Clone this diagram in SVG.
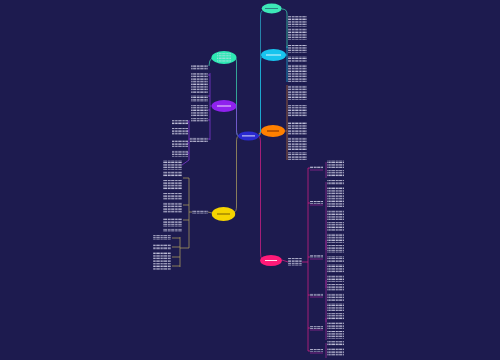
<svg xmlns="http://www.w3.org/2000/svg" width="500" height="360" viewBox="0 0 500 360">
<defs>
<pattern id="tx" patternUnits="userSpaceOnUse" width="7.3" height="2.6"><rect x="0" y="0.5" width="2.4" height="1.1" fill="#d8d8ee"/><rect x="3" y="0.5" width="3.6" height="1.1" fill="#d8d8ee"/></pattern>
<style>
.t{fill:url(#tx)}
.c{fill:none;stroke-width:0.7}
.nl{fill:#ffffff;opacity:.85}
</style>
</defs>
<rect width="500" height="360" fill="#1d1b4f"/>
<g id="connectors">
<path class="c" stroke="#3de0b4" d="M239 136 Q236.5 136 236.5 130 L236.5 62 Q236.5 57.5 234 57.5"/>
<path class="c" stroke="#8a3ae0" d="M239 136 Q236.5 136 236.5 130 L236.5 110 Q236.5 106 234 106"/>
<path class="c" stroke="#b8a860" d="M239 136 Q236.5 136 236.5 142 L236.5 206 Q236.5 212 234 212"/>
<path class="c" stroke="#2bb0d0" d="M258 136 Q260.5 136 260.5 130 L260.5 16 Q260.5 12 262 11"/>
<path class="c" stroke="#18b8e0" d="M258 136 Q260.5 136 260.5 130 L260.5 62 Q260.5 58 262 57"/>
<path class="c" stroke="#ff7a10" d="M258.5 134 L261.5 132"/>
<path class="c" stroke="#e0208a" d="M258 136 Q260.5 136 260.5 142 L260.5 252 Q260.5 258 262 259"/>
<path class="c" stroke="#3de0b4" d="M282 9 Q287 9 287 14 L287 48"/>
<path class="c" stroke="#18b8e0" d="M286 55 L287 55 M287 46 L287 82"/>
<path class="c" stroke="#c07030" d="M285 131 L287 131 M287 85 L287 160"/>
<path class="c" stroke="#3de0b4" d="M212 58 Q209 60 209 66"/>
<path class="c" stroke="#8a3ae0" d="M211.5 106 L210 106 M210 73 L210 140 M210 75 L208 75 M210 96 L208 96 M210 110 L208 110 M210 120 L208 120 M210 139 L208 139"/>
<path class="c" stroke="#8a3ae0" d="M190 139 L189 139 M189 120 L189 160 M189 122 L187 122 M189 131 L187 131 M189 143 L187 143 M189 153 L187 153 M189 160 L182 165"/>
<path class="c" stroke="#b8a860" d="M212 213 L208 212 M192 212 L189 212 M189 178 L189 248 M189 178 L183 178 M189 205 L183 205 M189 220 L183 220 M189 248 L180 248 M180 237 L180 267 M180 238 L172 238 M180 247 L172 247 M180 257 L172 257 M180 266 L172 266"/>
<path class="c" stroke="#e0208a" d="M282 260 L288 262 M302 262 L308 262 M308 168 L308 351 M308 168 L310 168 M308 203 L310 203 M308 257 L310 257 M308 295 L310 295 M308 328 L310 328 M308 351 L310 351"/>
<path class="c" stroke="#a02a9a" d="M310 170 L323 170 M326 162 L326 178 M310 205 L323 205 M326 182 L326 250 M310 259 L323 259 M326 240 L326 288 M310 297 L323 297 M326 280 L326 322 M310 330 L323 330 M326 318 L326 340 M310 353 L323 353 M326 343 L326 358"/>
</g>
<g id="root"><ellipse cx="248.5" cy="136" rx="10.5" ry="4.5" fill="#2a2ad0"/><rect class="nl" x="242" y="135.4" width="13" height="1"/></g>
<g id="n-top"><ellipse cx="271.7" cy="8.5" rx="10" ry="5" fill="#3de8b8"/><rect x="265" y="8" width="13" height="1" fill="#1d1b4f" opacity=".5"/></g>
<g id="n-green"><ellipse cx="224" cy="57.5" rx="12.5" ry="6.5" fill="#2ee8b4"/><rect x="217" y="53" width="14" height="9" fill="url(#tx)" opacity=".7"/></g>
<g id="n-cyan"><ellipse cx="273.5" cy="55" rx="12.5" ry="6" fill="#18c4ee"/><rect class="nl" x="266" y="54.5" width="15" height="1"/></g>
<g id="n-purple"><ellipse cx="224" cy="106" rx="12.5" ry="6" fill="#8f22ee"/><rect class="nl" x="217" y="105.5" width="14" height="1"/></g>
<g id="n-orange"><ellipse cx="273" cy="131" rx="12" ry="6" fill="#ff8000"/><rect x="267" y="130.5" width="12" height="1" fill="#7a2a00"/></g>
<g id="n-yellow"><ellipse cx="223.5" cy="214" rx="11.7" ry="7" fill="#f5d400"/><rect x="217" y="213.5" width="13" height="1" fill="#7a6000"/></g>
<g id="n-pink"><ellipse cx="271" cy="260.5" rx="11" ry="5.5" fill="#ff1a78"/><rect class="nl" x="265" y="260" width="12" height="1"/></g>
<g id="text-right-top">
<rect class="t" x="288" y="16" width="19" height="11"/>
<rect class="t" x="288" y="28" width="19" height="12"/>
<rect class="t" x="288" y="45" width="19" height="8"/>
<rect class="t" x="288" y="56" width="19" height="6"/>
<rect class="t" x="288" y="64" width="19" height="18"/>
<rect class="t" x="288" y="85" width="19" height="15"/>
<rect class="t" x="288" y="105" width="19" height="12"/>
<rect class="t" x="288" y="122" width="19" height="13"/>
<rect class="t" x="288" y="137" width="19" height="13"/>
<rect class="t" x="288" y="152" width="19" height="8"/>
</g>
<g id="text-left">
<rect class="t" x="191" y="65" width="17" height="5"/>
<rect class="t" x="191" y="73" width="17" height="20"/>
<rect class="t" x="191" y="95" width="17" height="7"/>
<rect class="t" x="191" y="105" width="17" height="12"/>
<rect class="t" x="191" y="118" width="17" height="4"/>
<rect class="t" x="190" y="137" width="18" height="5"/>
<rect class="t" x="172" y="120" width="16" height="5"/>
<rect class="t" x="172" y="128" width="16" height="7"/>
<rect class="t" x="172" y="140" width="16" height="7"/>
<rect class="t" x="172" y="150" width="16" height="7"/>
<rect class="t" x="163" y="160" width="19" height="10"/>
<rect class="t" x="192" y="210" width="16" height="4"/>
<rect class="t" x="163" y="171" width="19" height="6"/>
<rect class="t" x="163" y="180" width="19" height="10"/>
<rect class="t" x="163" y="193" width="19" height="7"/>
<rect class="t" x="163" y="202" width="19" height="11"/>
<rect class="t" x="163" y="218" width="19" height="9"/>
<rect class="t" x="163" y="228" width="19" height="4"/>
<rect class="t" x="153" y="235" width="18" height="5"/>
<rect class="t" x="153" y="244" width="18" height="6"/>
<rect class="t" x="153" y="252" width="18" height="10"/>
<rect class="t" x="153" y="263" width="18" height="7"/>
</g>
<g id="text-pink">
<rect class="t" x="288" y="258" width="14" height="8"/>
<rect class="t" x="310" y="166" width="13" height="3"/>
<rect class="t" x="310" y="201" width="13" height="3"/>
<rect class="t" x="310" y="255" width="13" height="3"/>
<rect class="t" x="310" y="293" width="13" height="3"/>
<rect class="t" x="310" y="326" width="13" height="3"/>
<rect class="t" x="310" y="349" width="13" height="3"/>
<rect class="t" x="327" y="160" width="17" height="8"/>
<rect class="t" x="327" y="170" width="17" height="7"/>
<rect class="t" x="327" y="180" width="17" height="5"/>
<rect class="t" x="327" y="187" width="17" height="20"/>
<rect class="t" x="327" y="210" width="17" height="10"/>
<rect class="t" x="327" y="222" width="17" height="9"/>
<rect class="t" x="327" y="233" width="17" height="10"/>
<rect class="t" x="327" y="245" width="17" height="8"/>
<rect class="t" x="327" y="256" width="17" height="6"/>
<rect class="t" x="327" y="264" width="17" height="9"/>
<rect class="t" x="327" y="275" width="17" height="7"/>
<rect class="t" x="327" y="284" width="17" height="7"/>
<rect class="t" x="327" y="293" width="17" height="8"/>
<rect class="t" x="327" y="303" width="17" height="8"/>
<rect class="t" x="327" y="313" width="17" height="7"/>
<rect class="t" x="327" y="322" width="17" height="7"/>
<rect class="t" x="327" y="331" width="17" height="8"/>
<rect class="t" x="327" y="341" width="17" height="5"/>
<rect class="t" x="327" y="348" width="17" height="8"/>
</g>
</svg>
